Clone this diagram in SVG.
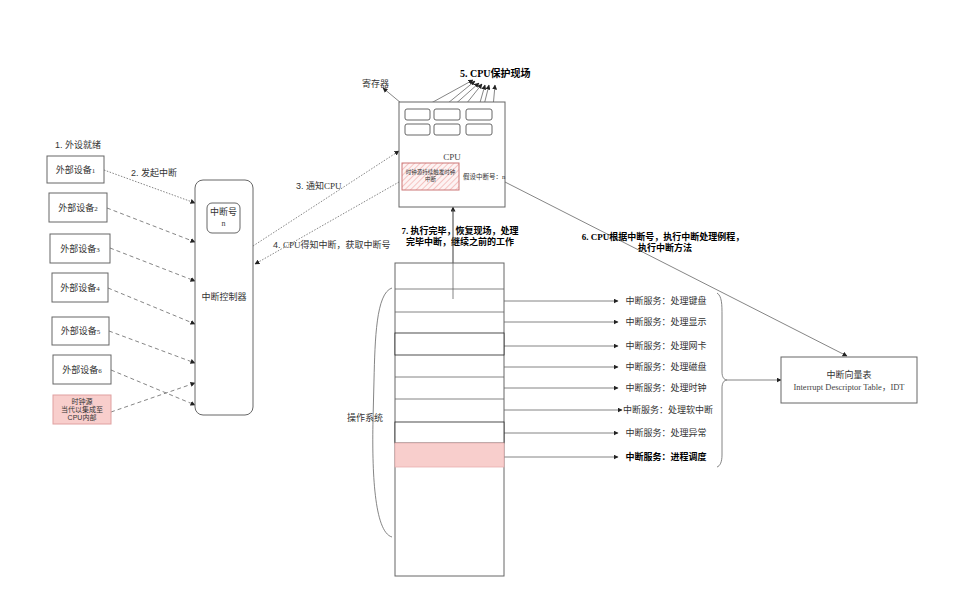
<svg xmlns="http://www.w3.org/2000/svg" width="960" height="596" viewBox="0 0 960 596">
<defs>
<style>
.t{font-family:"Liberation Sans","Noto Sans CJK SC",sans-serif;font-size:9px;fill:#333;}
.s{font-family:"Liberation Serif","Noto Sans CJK SC",serif;fill:#444;}
.sr{font-family:"Liberation Serif",serif;}
.b{font-weight:bold;fill:#000;}
.box{fill:#fff;stroke:#666;stroke-width:1;}
.ln{fill:none;stroke:#666;stroke-width:0.8;}
.dash{stroke-dasharray:4 3;}
.dot{stroke-dasharray:1.5 1.5;}
</style>
<marker id="ah" viewBox="0 0 10 10" refX="9" refY="5" markerWidth="5" markerHeight="5" markerUnits="userSpaceOnUse" orient="auto">
<path d="M0,0 L10,5 L0,10 z" fill="#222"/>
</marker>
<pattern id="hatch" width="4" height="4" patternUnits="userSpaceOnUse" patternTransform="rotate(45)">
<rect width="4" height="4" fill="#fdf3f3"/>
<line x1="0" y1="0" x2="0" y2="4" stroke="#f3b3b1" stroke-width="1.5"/>
</pattern>
</defs>
<rect width="960" height="596" fill="#fff"/>

<g id="connectors">
<path class="ln dot" d="M104,170 L195,203" marker-end="url(#ah)"/>
<path class="ln dash" d="M107,208 L195,242" marker-end="url(#ah)"/>
<path class="ln dash" d="M110,248 L195,281" marker-end="url(#ah)"/>
<path class="ln dash" d="M108,288 L195,324" marker-end="url(#ah)"/>
<path class="ln dash" d="M109,331 L195,363" marker-end="url(#ah)"/>
<path class="ln dash" d="M111,370 L195,405" marker-end="url(#ah)"/>
<path class="ln dash" d="M111,412 L195,383" marker-end="url(#ah)"/>
<path class="ln dot" d="M253,246 L399,151" marker-end="url(#ah)"/>
<path class="ln dot" d="M399,182 L255,264" marker-end="url(#ah)"/>
<path class="ln" d="M413,113 L383,88" marker-end="url(#ah)"/>
<path class="ln" d="M413,113 L473,80" marker-end="url(#ah)"/>
<path class="ln" d="M415,130 L475,81" marker-end="url(#ah)"/>
<path class="ln" d="M443,115 L479,83" marker-end="url(#ah)"/>
<path class="ln" d="M443,133 L482,84" marker-end="url(#ah)"/>
<path class="ln" d="M477,113 L485,85" marker-end="url(#ah)"/>
<path class="ln" d="M477,133 L489,85" marker-end="url(#ah)"/>
<path class="ln" d="M487,175 L495,85" marker-end="url(#ah)"/>
<path class="ln" d="M505,182 L847,356" marker-end="url(#ah)"/>
<path class="ln" d="M453,299 L453,207" marker-end="url(#ah)"/>
<path class="ln" d="M494,301 L618,301" marker-end="url(#ah)"/>
<path class="ln" d="M494,322 L618,322" marker-end="url(#ah)"/>
<path class="ln" d="M494,346 L618,346" marker-end="url(#ah)"/>
<path class="ln" d="M494,367 L618,367" marker-end="url(#ah)"/>
<path class="ln" d="M494,388 L618,388" marker-end="url(#ah)"/>
<path class="ln" d="M494,410 L622,410" marker-end="url(#ah)"/>
<path class="ln" d="M494,433 L618,433" marker-end="url(#ah)"/>
<path class="ln" d="M494,457 L618,457" marker-end="url(#ah)"/>
<path class="ln" d="M727,380 L781,380" marker-end="url(#ah)"/>
<path class="ln" d="M717,293 C722,296 722,305 722,315 L722,372 C722,377 724,380 727,380 C724,380 722,383 722,388 L722,455 C722,462 720,466 717,467"/>
<path class="ln" d="M392,288 C376,293 375,340 374,380 L373,420 C372,470 374,532 392,537"/>
</g>

<text class="t" x="55" y="148">1. 外设就绪</text>
<text class="t" x="131" y="176">2. 发起中断</text>
<text class="t" x="296" y="189">3. 通知<tspan class="sr">CPU</tspan></text>
<text class="t" x="273" y="248">4. <tspan class="sr">CPU</tspan>得知中断，获取中断号</text>
<text class="t" x="362" y="87">寄存器</text>
<text class="t b" x="460" y="77" style="font-size:10px"><tspan class="sr">5. CPU</tspan>保护现场</text>
<text class="t b" x="663" y="240" text-anchor="middle"><tspan class="sr">6. CPU</tspan>根据中断号，执行中断处理例程，</text>
<text class="t b" x="665" y="251" text-anchor="middle">执行中断方法</text>
<text class="t b" x="460" y="234" text-anchor="middle"><tspan class="sr">7. </tspan>执行完毕，恢复现场，处理</text>
<text class="t b" x="460" y="245" text-anchor="middle">完毕中断，继续之前的工作</text>
<text class="t" x="365" y="421" text-anchor="middle">操作系统</text>

<g id="dev1"><rect class="box" x="47" y="156" width="57" height="27"/><text class="t" x="75.5" y="172.5" text-anchor="middle">外部设备<tspan class="sr" style="font-size:7px">1</tspan></text></g>
<g id="dev2"><rect class="box" x="49" y="193" width="58" height="29"/><text class="t" x="78" y="210.5" text-anchor="middle">外部设备<tspan class="sr" style="font-size:7px">2</tspan></text></g>
<g id="dev3"><rect class="box" x="50" y="234" width="60" height="29"/><text class="t" x="80" y="251.5" text-anchor="middle">外部设备<tspan class="sr" style="font-size:7px">3</tspan></text></g>
<g id="dev4"><rect class="box" x="52" y="273" width="56" height="29"/><text class="t" x="80" y="290.5" text-anchor="middle">外部设备<tspan class="sr" style="font-size:7px">4</tspan></text></g>
<g id="dev5"><rect class="box" x="52" y="317" width="57" height="28"/><text class="t" x="80.5" y="334" text-anchor="middle">外部设备<tspan class="sr" style="font-size:7px">5</tspan></text></g>
<g id="dev6"><rect class="box" x="53" y="355" width="58" height="29"/><text class="t" x="82" y="372.5" text-anchor="middle">外部设备<tspan class="sr" style="font-size:7px">6</tspan></text></g>
<g id="clock"><rect x="53" y="395" width="58" height="29" fill="#f8cecc" stroke="#e0a0a0"/>
<text class="t" x="82" y="404" text-anchor="middle" style="font-size:7px">时钟源</text>
<text class="t" x="82" y="412" text-anchor="middle" style="font-size:7px">当代以集成至</text>
<text class="t" x="82" y="420" text-anchor="middle" style="font-size:7px">CPU内部</text></g>

<g id="controller"><rect class="box" x="195" y="180" width="58" height="235" rx="8"/>
<text class="t" x="224" y="300" text-anchor="middle">中断控制器</text>
<rect class="box" x="207" y="203" width="33" height="30" rx="5"/>
<text class="t" x="223.5" y="215" text-anchor="middle">中断号</text>
<text class="s" x="223.5" y="226" text-anchor="middle" style="font-size:8px">n</text></g>

<g id="cpu"><rect class="box" x="399" y="102" width="106" height="105"/>
<rect class="box" x="405" y="109" width="25" height="11" rx="2"/>
<rect class="box" x="434" y="109" width="26" height="11" rx="2"/>
<rect class="box" x="466" y="109" width="26" height="11" rx="2"/>
<rect class="box" x="405" y="124" width="25" height="11" rx="2"/>
<rect class="box" x="434" y="124" width="26" height="11" rx="2"/>
<rect class="box" x="466" y="124" width="26" height="11" rx="2"/>
<text class="s" x="452" y="160" text-anchor="middle" style="font-size:9px">CPU</text>
<rect x="402" y="163" width="57" height="27" fill="url(#hatch)" stroke="#c77"/>
<text class="t" x="430.5" y="174" text-anchor="middle" style="font-size:5.5px">时钟源持续触发时钟</text>
<text class="t" x="430.5" y="181" text-anchor="middle" style="font-size:5.5px">中断</text>
<text class="t" x="484" y="179" text-anchor="middle" style="font-size:6.5px">假设中断号：<tspan class="sr">n</tspan></text></g>

<g id="os"><rect class="box" x="395" y="263" width="109" height="313"/>
<line class="ln" x1="395" y1="289" x2="504" y2="289"/>
<line class="ln" x1="395" y1="312" x2="504" y2="312"/>
<rect x="395" y="333" width="109" height="22" fill="#fff" stroke="#222" stroke-width="0.8"/>
<line class="ln" x1="395" y1="377" x2="504" y2="377"/>
<line class="ln" x1="395" y1="399" x2="504" y2="399"/>
<rect x="395" y="422" width="109" height="21" fill="#fff" stroke="#222" stroke-width="0.8"/>
<rect x="395" y="443" width="109" height="24" fill="#f8cecc" stroke="#e8b0b0" stroke-width="0.8"/>
<line class="ln" x1="453" y1="299" x2="453" y2="210"/></g>

<g id="services">
<text class="t" x="666" y="304" text-anchor="middle">中断服务：处理键盘</text>
<text class="t" x="666" y="325" text-anchor="middle">中断服务：处理显示</text>
<text class="t" x="666" y="349" text-anchor="middle">中断服务：处理网卡</text>
<text class="t" x="666" y="370" text-anchor="middle">中断服务：处理磁盘</text>
<text class="t" x="666" y="391" text-anchor="middle">中断服务：处理时钟</text>
<text class="t" x="668" y="413" text-anchor="middle">中断服务：处理软中断</text>
<text class="t" x="666" y="436" text-anchor="middle">中断服务：处理异常</text>
<text class="t b" x="666" y="460" text-anchor="middle">中断服务：进程调度</text>
</g>

<g id="idt"><rect class="box" x="781" y="357" width="136" height="46"/>
<text class="t" x="849" y="378" text-anchor="middle">中断向量表</text>
<text class="s" x="849" y="390" text-anchor="middle" style="font-size:8.5px">Interrupt Descriptor Table，IDT</text></g>
</svg>
